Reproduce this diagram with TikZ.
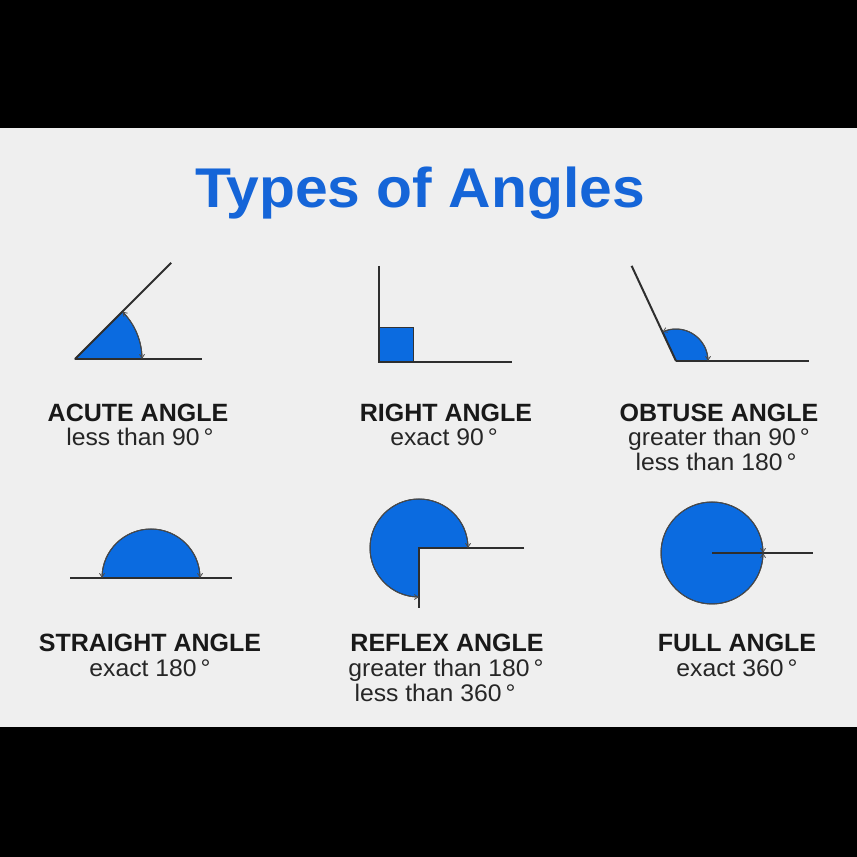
\documentclass[tikz,border=0pt]{standalone}
\usepackage{fontspec}
\setmainfont{Liberation Sans}
\newfontfamily\textefont{Liberation Sans}[FakeStretch=1.03]
\newfontfamily\titrefont{Liberation Sans}[FakeStretch=1.05]
\usetikzlibrary{arrows.meta}
\definecolor{bleuangle}{HTML}{0B6BE0}
\definecolor{bleutitre}{HTML}{1565D8}
\definecolor{fond}{HTML}{EFEFEF}
\definecolor{trait}{HTML}{2E2E2E}

\begin{document}
\begin{tikzpicture}[x=1pt,y=1pt]
\tikzset{rayon/.style={draw=trait, line width=2pt},
  secteur/.style={fill=bleuangle, draw=black!80, line width=1pt},
  fleche/.style={draw=black!70, line width=0.8pt, {Straight Barb[length=4pt,width=5pt]}-{Straight Barb[length=4pt,width=5pt]}},
  titre/.style={anchor=base, inner sep=0pt, text=bleutitre, font=\titrefont\bfseries\fontsize{56}{60}\selectfont},
  nom/.style={anchor=base, inner sep=0pt, text=black!90, font=\bfseries\fontsize{25}{28}\selectfont},
  mesure/.style={anchor=base, inner sep=0pt, text=black!85, font=\textefont\fontsize{24}{26}\selectfont}}
\fill[black] (0,0) rectangle (857,857);
\fill[fond] (0,130) rectangle (857,729);
\node[titre] (T) at (420,649) {Types of Angles};
\coordinate (A1) at (75,498);
\coordinate (A2) at (379,495);
\coordinate (A3) at (676,496);
\coordinate (A4) at (151,279);
\coordinate (A5) at (419,309);
\coordinate (A6) at (712,304);
\filldraw[secteur] (A1) -- ++(67,0) arc[start angle=0, end angle=45, radius=67] -- cycle;
\draw[rayon] (A1) -- (202,498);
\draw[rayon] (A1) -- ++(45:136);
\draw[fleche, shift={(A1)}] (67,0) arc[start angle=0, end angle=45, radius=67];
\filldraw[secteur] (A2) rectangle ++(34,34);
\draw[rayon] (379,591) -- (A2) -- (512,495);
\filldraw[secteur] (A3) -- ++(32,0) arc[start angle=0, end angle=115, radius=32] -- cycle;
\draw[rayon] (A3) -- (809,496);
\draw[rayon] (A3) -- ++(115:105);
\draw[fleche, shift={(A3)}] (32,0) arc[start angle=0, end angle=115, radius=32];
\filldraw[secteur] (A4) -- ++(49,0) arc[start angle=0, end angle=180, radius=49] -- cycle;
\draw[rayon] (70,279) -- (232,279);
\draw[fleche, shift={(A4)}] (49,0) arc[start angle=0, end angle=180, radius=49];
\filldraw[secteur] (A5) -- ++(49,0) arc[start angle=0, end angle=270, radius=49] -- cycle;
\draw[rayon] (524,309) -- (A5) -- (419,249);
\draw[fleche, shift={(A5)}] (49,0) arc[start angle=0, end angle=270, radius=49];
\filldraw[secteur] (A6) circle[radius=51];
\draw[rayon] (A6) -- (813,304);
\draw[fleche, shift={(A6)}] (51,0) arc[start angle=0, end angle=360, radius=51];
\node[nom] (N1) at (138,435) {ACUTE ANGLE};
\node[mesure] (M1) at (140,411) {less than 90\,°};
\node[nom] (N2) at (446,435) {RIGHT ANGLE};
\node[mesure] (M2) at (444,411) {exact 90\,°};
\node[nom] (N3) at (719,435) {OBTUSE ANGLE};
\node[mesure] (M3) at (719,411) {greater than 90\,°};
\node[mesure] (M3b) at (716,386) {less than 180\,°};
\node[nom] (N4) at (150,205) {STRAIGHT ANGLE};
\node[mesure] (M4) at (150,180) {exact 180\,°};
\node[nom] (N5) at (447,205) {REFLEX ANGLE};
\node[mesure] (M5) at (446,180) {greater than 180\,°};
\node[mesure] (M5b) at (435,155) {less than 360\,°};
\node[nom] (N6) at (737,205) {FULL ANGLE};
\node[mesure] (M6) at (737,180) {exact 360\,°};
\end{tikzpicture}
\end{document}
